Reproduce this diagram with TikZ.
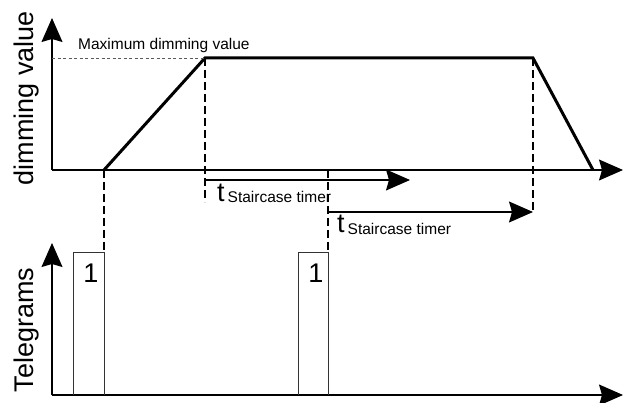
\documentclass[tikz,border=0pt]{standalone}
\usepackage{fontspec}
\setmainfont{Liberation Sans}
\usetikzlibrary{arrows.meta}

\begin{document}
\begin{tikzpicture}[x=1pt, y=-1pt, >={Stealth[length=24pt,width=21pt,inset=3pt]},
		axis/.style={line width=1.1pt, ->},
		curve/.style={line width=3pt, line join=miter},
		guide/.style={line width=1.5pt, dash pattern=on 8pt off 4pt},
		maxline/.style={line width=0.8pt, dash pattern=on 3pt off 2.5pt, gray!70!black},
		pulse/.style={line width=0.9pt, gray!40!black},
		bigtxt/.style={font=\fontsize{27}{27}\selectfont, inner sep=0pt},
		smalltxt/.style={font=\fontsize{15.5}{15.5}\selectfont, inner sep=0pt}]
		\useasboundingbox (0,0) rectangle (624,403);
		\def\Yt{170}\def\Yb{395}\def\Ym{58}\def\Yp{252}
		\def\Xa{104}\def\Xb{205}\def\Xc{328}\def\Xd{533}
		% axes
		\coordinate (O1) at (52,\Yt);
		\coordinate (O2) at (52,\Yb);
		\draw[axis] (O1) -- (52,18);
		\draw[axis] (O1) -- (623,\Yt);
		\draw[axis] (O2) -- (52,243);
		\draw[axis] (O2) -- (623,\Yb);
		\node[bigtxt, rotate=90, anchor=base] (ylab1) at (33,98) {dimming value};
		\node[bigtxt, rotate=90, anchor=base] (ylab2) at (33,330) {Telegrams};
		% dimming curve
		\coordinate (A) at (\Xa,\Yt);
		\coordinate (B) at (\Xb,\Ym);
		\coordinate (C) at (\Xd,\Ym);
		\coordinate (D) at (593,\Yt);
		\draw[curve] (A) -- (B) -- (C) -- (D);
		\draw[maxline] (52,\Ym) -- (B);
		\node[smalltxt, anchor=base west] (maxv) at (78,50) {Maximum dimming value};
		% telegram pulses
		\coordinate (P1) at (\Xa,\Yp);
		\coordinate (P2) at (\Xc,\Yp);
		\draw[pulse] (73,\Yb) -- (73,\Yp) -- (P1) -- (\Xa,\Yb);
		\draw[pulse] (298,\Yb) -- (298,\Yp) -- (P2) -- (\Xc,\Yb);
		\node[bigtxt, anchor=base] (one1) at (91,283) {1};
		\node[bigtxt, anchor=base] (one2) at (316,283) {1};
		% guides
		\coordinate (G1) at (\Xb,202);
		\coordinate (T2s) at (\Xc,212);
		\coordinate (T2e) at (\Xd,212);
		\draw[guide] (A) -- (P1);
		\draw[guide] (B) -- (G1);
		\draw[guide] (\Xc,\Yt) -- (P2);
		\draw[guide] (C) -- (T2e);
		% staircase timers
		\draw[axis] (\Xb,180) -- (410,180);
		\draw[axis] (T2s) -- (T2e);
		\node[anchor=base west, inner sep=0pt] (tim1) at (217,202) {\fontsize{27}{27}\selectfont t\kern3pt\raisebox{-1pt}{\fontsize{15.5}{15.5}\selectfont Staircase timer}};
		\node[anchor=base west, inner sep=0pt] (tim2) at (337,233) {\fontsize{27}{27}\selectfont t\kern3pt\raisebox{-2pt}{\fontsize{15.5}{15.5}\selectfont Staircase timer}};
	\end{tikzpicture}
\end{document}
